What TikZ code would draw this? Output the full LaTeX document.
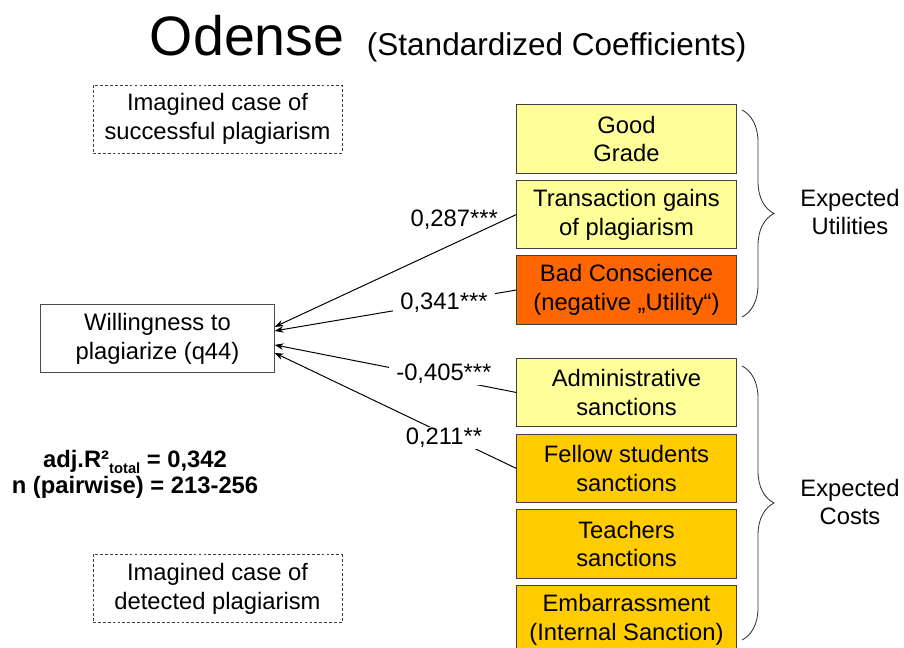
\documentclass[tikz,border=0pt]{standalone}
\usepackage{fontspec}
\setmainfont{Liberation Sans}
\usetikzlibrary{arrows.meta,decorations.pathreplacing}

\definecolor{paleyellow}{HTML}{FFFF99}
\definecolor{conscience}{HTML}{FF6600}
\definecolor{gold}{HTML}{FFCC00}

\begin{document}
\begin{tikzpicture}[x=0.025cm, y=-0.025cm,
	every node/.style={font=\fontsize{16.9}{20.6}\selectfont, align=center},
	factor/.style={draw=black!75, line width=0.7pt, minimum width=5.475cm, minimum height=1.7cm, inner sep=0pt},
	scenario/.style={draw=black!75, line width=0.6pt, dash pattern=on 2pt off 1.5pt, minimum width=6.225cm, minimum height=1.7cm, inner sep=0pt},
	coef/.style={fill=white, inner xsep=5pt, inner ysep=1pt},
	fitline/.style={font=\bfseries\fontsize{16.9}{20}\selectfont},
	arr/.style={-{Stealth[length=2.2mm, width=1.6mm]}, line width=0.7pt},
	grouping/.style={decorate, decoration={brace, amplitude=0.8cm}, line width=0.6pt, black!80}]
			\useasboundingbox (0,0) rectangle (904,648);
			
			\node[anchor=base west, font=\fontsize{39.5}{44}\selectfont] (title) at (145,56) {Odense};
			\node[anchor=base west, font=\fontsize{22.4}{26}\selectfont] (subtitle) at (362,56) {(Standardized Coefficients)};
			
			\node[scenario] (succ) at (217.5,119)  {Imagined case of\\successful plagiarism};
			\node[scenario] (det)  at (217.5,588.5) {Imagined case of\\detected plagiarism};
			\node[draw=black!70, line width=0.7pt, minimum width=5.83cm, minimum height=1.72cm, inner sep=0pt] (will) at (157.5,338.5) {Willingness to\\plagiarize (q44)};
			
			\node[factor, fill=paleyellow] (grade)  at (626.5,139)   {Good\\Grade};
			\node[factor, fill=paleyellow] (trans)  at (626.5,214.5) {Transaction gains\\of plagiarism};
			\node[factor, fill=conscience] (bad)    at (626.5,290)   {Bad Conscience\\(negative „Utility“)};
			\node[factor, fill=paleyellow] (admin)  at (626.5,392.5) {Administrative\\sanctions};
			\node[factor, fill=gold]       (fellow) at (626.5,468.5) {Fellow students\\sanctions};
			\node[factor, fill=gold]       (teach)  at (626.5,544)   {Teachers\\sanctions};
			\node[factor, fill=gold]       (emb)    at (626.5,620)   {Embarrassment\\(Internal Sanction)};
			
			\node (util) at (850,212) {Expected\\Utilities};
			\node (cost) at (850,502) {Expected\\Costs};
			
			\node[fitline, anchor=base] (fitr) at (135,468) {adj.R²\raisebox{-0.4ex}{\fontsize{10.5}{10.5}\selectfont total} = 0,342};
			\node[fitline, anchor=base] (fitn) at (135,494) {n (pairwise) = 213-256};
			
			\path (trans.west)  edge[arr] node[pos=0.05, left=1pt] {0,287***} ([yshift=0.29cm]will.east);
			\path (bad.west)    edge[arr] node[coef, pos=0.30] {0,341***} ([yshift=0.19cm]will.east);
			\path (admin.west)  edge[arr] node[coef, pos=0.30, yshift=3pt] {-0,405***} ([yshift=-0.16cm]will.east);
			\path (fellow.west) edge[arr] node[coef, pos=0.30, yshift=-3pt] {0,211**} ([yshift=-0.36cm]will.east);
			
			\draw[grouping] (742,110) -- (742,317);
			\draw[grouping] (742,366) -- (742,640);
			
		\end{tikzpicture}
\end{document}
